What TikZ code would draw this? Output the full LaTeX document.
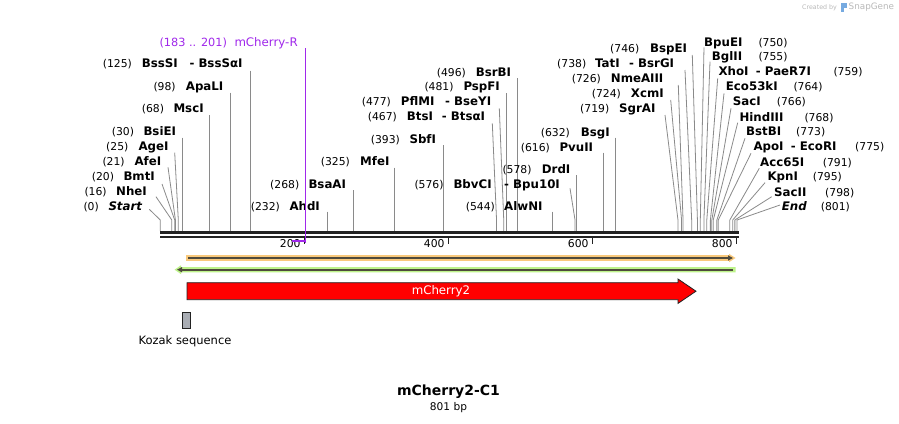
\documentclass[tikz,border=0pt]{standalone}
\usepackage{fontspec}
\setmainfont{DejaVu Sans}
\usetikzlibrary{arrows.meta}
\definecolor{cutgray}{HTML}{8A8A8A}
\definecolor{rulercol}{HTML}{222222}
\definecolor{primer}{RGB}{160,40,235}
\definecolor{orangeband}{HTML}{F9C97C}
\definecolor{greenband}{HTML}{BDF38A}
\definecolor{featline}{HTML}{4F4A3C}
\definecolor{kozak}{HTML}{A9ADB4}
\newcommand\numf{\fontsize{10.8}{12}\selectfont}
\newcommand\enzf{\fontsize{11.8}{14}\selectfont\bfseries}
\tikzset{
  numtxt/.style={font=\numf, anchor=base west, inner sep=0pt},
  enztxt/.style={font=\enzf, anchor=base west, inner sep=0pt},
  cutline/.style={draw=cutgray, line width=0.8pt},
  ticklbl/.style={font=\fontsize{10.8}{12}\selectfont, anchor=east, inner sep=0pt},
}
\newcommand\Lsite[6]{%
  \node[numtxt] (n#1) at (#2,{#4+4}) {(#5)};
  \node[enztxt] (e#1) at (#3,{#4+4}) {#6};}
\newcommand\Rsite[6]{%
  \node[enztxt] (e#1) at (#2,{#4+4}) {#6};
  \node[numtxt] (n#1) at (#3,{#4+4}) {(#5)};}
\newcommand\Xname[4]{%
  \node[enztxt] (x#1) at (#2,{#3+4}) {- #4};}
\newcommand\Acut[4]{%
  \coordinate (t#1) at (#3,#4);
  \coordinate (k#1) at ({160.3+0.72*#2},220);
  \coordinate (r#1) at ({160.3+0.72*#2},231);
  \draw[cutline] (t#1) -- (k#1) -- (r#1);}
\newcommand\Vcut[3]{%
  \coordinate (t#1) at ({160.3+0.72*#2},#3);
  \coordinate (r#1) at ({160.3+0.72*#2},231);
  \draw[cutline] (t#1) -- (r#1);}
\begin{document}
\begin{tikzpicture}[x=1pt,y=-1pt]
\fill[white] (0,0) rectangle (899,423);
\useasboundingbox (0,0) rectangle (899,423);

% ---- cut-site lines
\Acut{Start}{0}{149.3}{209.3}
\Acut{NheI}{16}{156}{196.7}
\Acut{BmtI}{20}{162}{184}
\Acut{AfeI}{21}{168}{167.3}
\Acut{AgeI}{25}{174.7}{152.7}
\Vcut{BsiEI}{30}{137.7}
\Vcut{MscI}{68}{115}
\Vcut{ApaLI}{98}{92.7}
\Vcut{BssSI}{125}{70.7}
\Vcut{AhdI}{232}{211.7}
\Vcut{BsaAI}{268}{190}
\Vcut{MfeI}{325}{167.7}
\Vcut{SbfI}{393}{145}
\Acut{BtsI}{467}{492.3}{123.3}
\Acut{PflMI}{477}{499.3}{108.3}
\Vcut{PspFI}{481}{93.3}
\Vcut{BsrBI}{496}{78.3}
\Acut{BbvCI}{576}{570}{188.3}
\Vcut{AlwNI}{544}{211.7}
\Vcut{DrdI}{578}{175}
\Vcut{PvuII}{616}{152.7}
\Vcut{BsgI}{632}{137.7}
\Acut{SgrAI}{719}{665}{115}
\Acut{XcmI}{724}{670.7}{100}
\Acut{NmeAIII}{726}{678.3}{85}
\Acut{TatI}{738}{685}{70}
\Acut{BspEI}{746}{692.3}{55}
\Acut{BpuEI}{750}{704}{47.3}
\Acut{BglII}{755}{710}{61.7}
\Acut{XhoI}{759}{717.7}{78.3}
\Acut{Eco53kI}{764}{724}{93.3}
\Acut{SacI}{766}{731}{108.3}
\Acut{HindIII}{768}{737.7}{122.7}
\Acut{BstBI}{773}{745}{138.3}
\Acut{ApoI}{775}{751}{153.3}
\Acut{Acc65I}{791}{759.3}{168.3}
\Acut{KpnI}{795}{765}{182.7}
\Acut{SacII}{798}{771.7}{196.7}
\Acut{End}{801}{780}{205}

% ---- labels, left side
\Lsite{Start}{83.3}{108.3}{206.7}{0}{\itshape Start}
\Lsite{NheI}{84.3}{116}{191.7}{16}{NheI}
\Lsite{BmtI}{91.7}{123.3}{176.7}{20}{BmtI}
\Lsite{AfeI}{102.3}{134.3}{161.7}{21}{AfeI}
\Lsite{AgeI}{106}{138.3}{146.7}{25}{AgeI}
\Lsite{BsiEI}{111.7}{143.3}{131.7}{30}{BsiEI}
\Lsite{MscI}{141.7}{173.3}{108.5}{68}{MscI}
\Lsite{ApaLI}{153.3}{185.7}{86.7}{98}{ApaLI}
\Lsite{BssSI}{102.7}{141.7}{63.3}{125}{BssSI}
\Xname{BssSI}{189.3}{63.3}{BssSαI}
\Lsite{AhdI}{250.7}{289.3}{206.7}{232}{AhdI}
\Lsite{BsaAI}{270}{308.3}{184}{268}{BsaAI}
\Lsite{MfeI}{320.7}{360}{161.7}{325}{MfeI}
\Lsite{SbfI}{370.7}{409.3}{139}{393}{SbfI}
\Lsite{BtsI}{367.7}{406.7}{116.7}{467}{BtsI}
\Xname{BtsI}{441.7}{116.7}{BtsαI}
\Lsite{PflMI}{361.7}{400.7}{101.7}{477}{PflMI}
\Xname{PflMI}{445}{101.7}{BseYI}
\Lsite{PspFI}{424.3}{463.3}{86.7}{481}{PspFI}
\Lsite{BsrBI}{436.7}{475.7}{72.3}{496}{BsrBI}
\Lsite{BbvCI}{414.3}{453.3}{184}{576}{BbvCI}
\Xname{BbvCI}{504}{184}{Bpu10I}
\Lsite{AlwNI}{465.7}{504}{206.7}{544}{AlwNI}
\Lsite{DrdI}{502.3}{541.7}{169}{578}{DrdI}
\Lsite{PvuII}{520.7}{559.3}{147.3}{616}{PvuII}
\Lsite{BsgI}{540.7}{580.7}{132}{632}{BsgI}
\Lsite{SgrAI}{580}{619}{108.3}{719}{SgrAI}
\Lsite{XcmI}{591.7}{630.7}{93.3}{724}{XcmI}
\Lsite{NmeAIII}{571.7}{610.7}{78.3}{726}{NmeAIII}
\Lsite{TatI}{557}{595}{63.5}{738}{TatI}
\Xname{TatI}{629}{63.5}{BsrGI}
\Lsite{BspEI}{610}{650}{48.3}{746}{BspEI}

% ---- labels, right side
\Rsite{BpuEI}{704}{758.3}{42.7}{750}{BpuEI}
\Rsite{BglII}{711.7}{758.3}{56.7}{755}{BglII}
\Rsite{XhoI}{718.3}{833.3}{71.7}{759}{XhoI}
\Xname{XhoI}{755.7}{71.7}{PaeR7I}
\Rsite{Eco53kI}{725.7}{793.3}{86.7}{764}{Eco53kI}
\Rsite{SacI}{732.7}{776.7}{101.7}{766}{SacI}
\Rsite{HindIII}{739.3}{804.3}{117}{768}{HindIII}
\Rsite{BstBI}{746}{796}{131.7}{773}{BstBI}
\Rsite{ApoI}{753.3}{855}{146.7}{775}{ApoI}
\Xname{ApoI}{790.7}{146.7}{EcoRI}
\Rsite{Acc65I}{760}{822.7}{162}{791}{Acc65I}
\Rsite{KpnI}{767.3}{812.7}{176.7}{795}{KpnI}
\Rsite{SacII}{774}{825}{192}{798}{SacII}
\Rsite{End}{781.7}{820.7}{206.7}{801}{\itshape End}

% ---- ruler
\draw[rulercol, line width=3.3pt] (160,232.7) -- (739,232.7);
\draw[rulercol, line width=2pt] (160,236.7) -- (739,236.7);
\foreach \b/\t in {200/200,400/400,600/600,800/800}{
  \draw[rulercol, line width=1.5pt] ({160.3+0.72*\b},236) -- ({160.3+0.72*\b},244);
  \node[ticklbl] (tick\t) at ({160.3+0.72*\b-3.5},243.5) {\t};
}

% ---- primer mCherry-R
\draw[primer, line width=1.3pt] (305.5,48.3) -- (305.5,242.5);
\draw[primer, line width=1.8pt] (292,240.7) -- (306,240.7);
\node[anchor=base west, inner sep=0pt, text=primer, font=\fontsize{11.3}{13}\selectfont] (prnum) at (159.3,46.3) {(183 .. 201)};
\node[anchor=base west, inner sep=0pt, text=primer, font=\fontsize{11.8}{13}\selectfont] (prname) at (234.3,46.3) {mCherry-R};

% ---- orange feature (forward)
\fill[orangeband] (186,255.2) -- (729,255.2) -- (729,253.8) -- (735.5,258) -- (729,262.2) -- (729,260.8) -- (186,260.8) -- cycle;
\draw[featline, line width=2pt, -{Triangle[length=5pt,width=5pt]}] (188,258) -- (733,258);

% ---- green feature (reverse)
\fill[greenband] (735.5,267) -- (181,267) -- (181,265.3) -- (174.5,269.7) -- (181,274.1) -- (181,272.4) -- (735.5,272.4) -- cycle;
\draw[featline, line width=2pt, -{Triangle[length=5pt,width=5pt]}] (733,269.7) -- (177,269.7);

% ---- mCherry2 CDS
\draw[fill=red, draw=rulercol, line width=0.8pt] (187,282.7) -- (678,282.7) -- (678,279) -- (696,291.2) -- (678,303.4) -- (678,299.7) -- (187,299.7) -- cycle;
\node[text=white, font=\fontsize{11.8}{13}\selectfont] (cds) at (441,291) {mCherry2};

% ---- Kozak sequence
\node[draw=rulercol, fill=kozak, line width=0.7pt, minimum width=8pt, minimum height=16pt, inner sep=0pt] (koz) at (186,320) {};
\node[font=\fontsize{11.5}{13}\selectfont, inner sep=0pt] (kozlbl) at (185,341) {Kozak sequence};

% ---- title
\node[font=\fontsize{14}{16}\selectfont\bfseries, inner sep=0pt] (title) at (448.5,392) {mCherry2-C1};
\node[font=\fontsize{10.6}{12}\selectfont, inner sep=0pt] (size) at (448.5,408) {801 bp};

% ---- watermark
\node[anchor=west, inner sep=0pt, text=gray!55, font=\fontsize{6.3}{7}\selectfont] (cby) at (802,7.5) {Created by};
\fill[cyan!60!blue!55] (840.5,3) rectangle (843.5,12);
\fill[cyan!60!blue!55] (843.5,3) rectangle (846.5,7.5);
\node[anchor=west, inner sep=0pt, text=gray!55, font=\fontsize{8.8}{10}\selectfont] (sg) at (848.5,7.5) {SnapGene};
\end{tikzpicture}
\end{document}
